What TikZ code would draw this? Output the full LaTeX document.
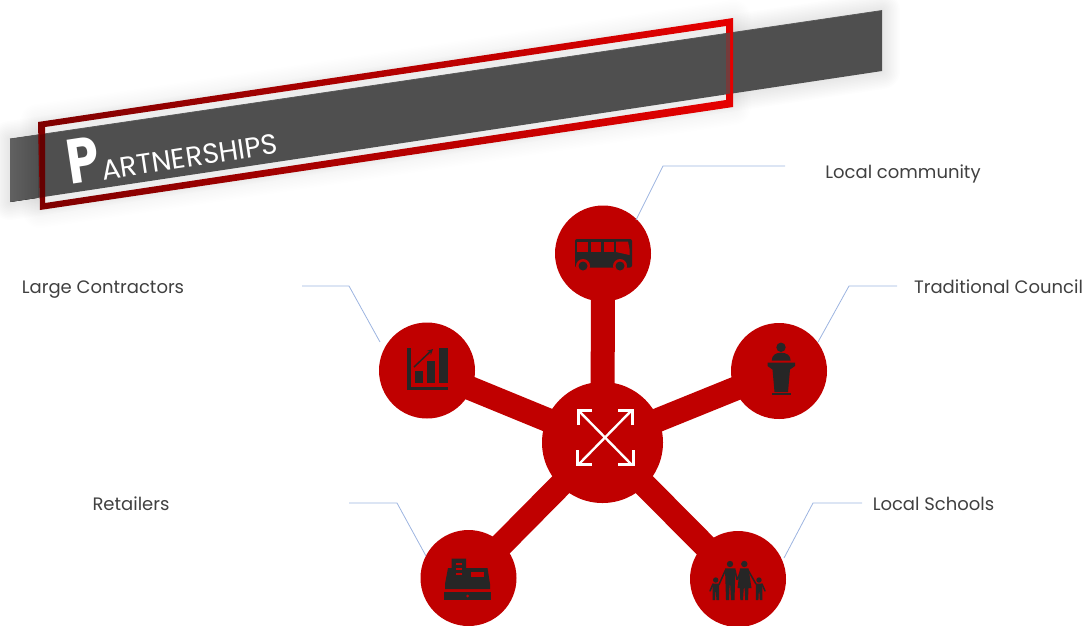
\documentclass[tikz,border=0pt]{standalone}
\usepackage{tkz-euclide}
\usepackage{fontspec}
\setmainfont{Poppins}
\tikzset{>=stealth}
\definecolor{hubred}{HTML}{C00000}
\definecolor{icondark}{HTML}{262626}
\definecolor{bargray}{HTML}{4F4F4F}
\definecolor{leadblue}{HTML}{9DB4E0}
\definecolor{labelgray}{HTML}{404040}
\tikzset{
  bubble/.style={circle,fill=hubred,draw=none,minimum size=96pt,inner sep=0pt},
  spoke/.style={hubred,line width=24pt},
  lead/.style={leadblue,line width=0.8pt},
  partner/.style={text=labelgray,font=\fontsize{18}{20}\selectfont,inner sep=0pt,anchor=base},
  icon/.style={fill=icondark,draw=none},
  gap/.style={fill=hubred,draw=none}
}

\begin{document}
\begin{tikzpicture}[x=1pt,y=-1pt]
\useasboundingbox (0,0) rectangle (1091,625);
\clip (0,0) rectangle (1091,625);
\tkzDefPoints{10/139/A, 882/10.5/B, 882/71/C, 10/202/D}
\tkzDefPoints{38/122/E, 733/18/F, 733/107/G, 40/210/H}
\tkzDefPoints{45/127/I, 726/26/J, 726/100/K, 45/203/L}
% soft shadow
\foreach \w in {3,6,...,36}{
  \draw[black,opacity=0.006,line width=\w pt,line join=round,shift={(0,6)}] (A)--(B)--(C)--(D)--cycle;
  \draw[black,opacity=0.002,line width=\w pt,line join=round,shift={(0,6)}] (E)--(F)--(G)--(H)--cycle;
}
\fill[black!7] (I)--(J)--(K)--(L)--cycle;
\fill[bargray] (A)--(B)--(C)--(D)--cycle;
\fill[left color=black!62,right color=bargray] (A)--(38,134.9)--(38,197.8)--(D)--cycle;
\draw[black!65,line width=0.8pt] (A)--(B);
\path[even odd rule,left color=red!50!black,right color=red!90!black]
  (E)--(F)--(G)--(H)--cycle (I)--(J)--(K)--(L)--cycle;
% bar seen through the frame
\fill[bargray,opacity=0.75] (726,33.2)--(730,32.6)--(730,93.5)--(726,94.1)--cycle;
\fill[black,opacity=0.2] (40,134.7)--(45,134)--(45,197)--(40,197.8)--cycle;
\node[white,rotate=8.6,inner sep=0pt,anchor=base west,font=\fontsize{28}{30}\selectfont] (title) at (70,185)
  {\scalebox{0.82}[1]{\fontsize{63}{66}\selectfont\bfseries P}\hspace{1pt}ARTNERSHIPS};

\node[bubble,minimum size=121pt] (hub) at (602.5,442.5) {};
\node[bubble] (bus) at (603,253.5) {};
\node[bubble] (chart) at (427,370.5) {};
\node[bubble] (podium) at (779,371) {};
\node[bubble] (till) at (468.5,578) {};
\node[bubble] (family) at (738,579) {};
\draw[spoke] (hub.center) -- (bus.center);
\draw[spoke] (hub.center) -- (chart.center);
\draw[spoke] (hub.center) -- (podium.center);
\draw[spoke] (hub.center) -- (till.center);
\draw[spoke] (hub.center) -- (family.center);

% leader lines
\coordinate (lcA) at (785,166); \coordinate (lcB) at (663,166); \coordinate (lcC) at (636,220);
\coordinate (lgA) at (302,286); \coordinate (lgB) at (349,286); \coordinate (lgC) at (380,342);
\coordinate (tcA) at (897,286); \coordinate (tcB) at (849,286); \coordinate (tcC) at (818,342);
\coordinate (reA) at (349,503); \coordinate (reB) at (397,503); \coordinate (reC) at (426,556);
\coordinate (lsA) at (862,503); \coordinate (lsB) at (813,503); \coordinate (lsC) at (784,558);
\draw[lead] (lcA) -- (lcB) -- (lcC);
\draw[lead] (lgA) -- (lgB) -- (lgC);
\draw[lead] (tcA) -- (tcB) -- (tcC);
\draw[lead] (reA) -- (reB) -- (reC);
\draw[lead] (lsA) -- (lsB) -- (lsC);

\node[partner] (community) at (903,178) {Local community};
\node[partner] (contractors) at (103,293) {Large Contractors};
\node[partner] (council) at (998.5,293) {Traditional Council};
\node[partner] (retailers) at (131,510) {Retailers};
\node[partner] (schools) at (933.5,510) {Local Schools};

% hub arrows
\draw[white,line width=2.4pt] (579,411) -- (631,464) (631,411) -- (579,464);
\draw[white,line width=3pt] (578,425) -- (578,410.5) -- (592,410.5);
\draw[white,line width=3pt] (632,425) -- (632,410.5) -- (618,410.5);
\draw[white,line width=3pt] (577.5,450) -- (577.5,464.5) -- (592,464.5);
\draw[white,line width=3pt] (633,450) -- (633,464.5) -- (618,464.5);

% bus
\fill[icon,rounded corners=2pt] (575,239) rectangle (632,267.5);
\foreach \a/\b in {577/587.5, 591/600.5, 603.5/613.5}{
  \fill[gap] (\a,241.5) rectangle (\b,252);
}
\fill[gap] (616,241.5) -- (628,241.5) -- (629.5,249) -- (629.5,255) -- (616,252) -- cycle;
\foreach \x in {583,620}{
  \fill[gap] (\x,266) circle (7);
  \fill[icon] (\x,266) circle (4.5);
}

% chart
\fill[icon] (407,348) rectangle (410.5,390);
\fill[icon] (407,386.5) rectangle (448,390);
\fill[icon] (414.5,371) rectangle (423,383);
\fill[icon] (427,361) rectangle (435,383);
\fill[icon] (439,348) rectangle (448,383);
\draw[->,icondark,line width=1.5pt] (414,367) -- (433,349);

% podium
\fill[icon] (781,347.3) circle (4.7);
\fill[icon] (771.7,360.7) .. controls (771.7,355) and (776,352.7) .. (781,352.7)
  .. controls (786,352.7) and (790.7,355) .. (790.7,360.7) -- cycle;
\fill[icon] (767.5,362.7) -- (795,362.7) -- (795,366) -- (790,369.5) -- (788,392)
  -- (774.5,392) -- (772.5,369.5) -- (767.5,366) -- cycle;
\fill[icon] (771.7,392.7) rectangle (790.7,395.3);

% till
\fill[icon] (445,589) -- (490,589) -- (490,584) -- (487.5,568) -- (466,568) -- (466,558.5)
  -- (451.7,558.5) -- (451.7,568) -- (448,568) -- (445,584) -- cycle;
\fill[icon] (444.3,592.3) rectangle (490.7,600.3);
\fill[gap] (467.7,596) circle (1.5);
\fill[gap] (470.7,571.7) rectangle (484,576.7);
\foreach \y in {562.5,567.5,572.5}{
  \fill[gap] (455.7,\y) rectangle (462.3,\y+2.3);
}

% family
\foreach \x in {730,744.3}{\fill[icon] (\x,564) circle (3.2);}
\foreach \x in {715.7,759}{\fill[icon] (\x,580) circle (2.7);}
\fill[icon] (725,568.3) -- (735.5,568.3) -- (734.5,600) -- (731,600) -- (730.2,585) -- (729.6,585) -- (729,600) -- (726,600) -- cycle;
\fill[icon] (740,568.3) -- (748.5,568.3) -- (751.5,588) -- (748.5,588) -- (748,600) -- (745.2,600) -- (744.6,588) -- (743.8,588) -- (743,600) -- (740.3,600) -- (739.8,588) -- (737.5,588) -- cycle;
\fill[icon] (712.5,583.5) -- (719,583.5) -- (719,600) -- (716.4,600) -- (716,592) -- (715.4,592) -- (715,600) -- (712.5,600) -- cycle;
\fill[icon] (755.8,583.5) -- (762.3,583.5) -- (762.3,600) -- (759.8,600) -- (759.4,592) -- (758.8,592) -- (758.4,600) -- (755.8,600) -- cycle;
\draw[icondark,line width=1.5pt,line cap=round] (713,584) -- (710,591) (719,584.5) -- (725.5,570) (735,570) -- (737,579.5) (741,570) -- (737.5,579.5) (748,570) -- (756,584) (762,584) -- (765,591);
\end{tikzpicture}
\end{document}
